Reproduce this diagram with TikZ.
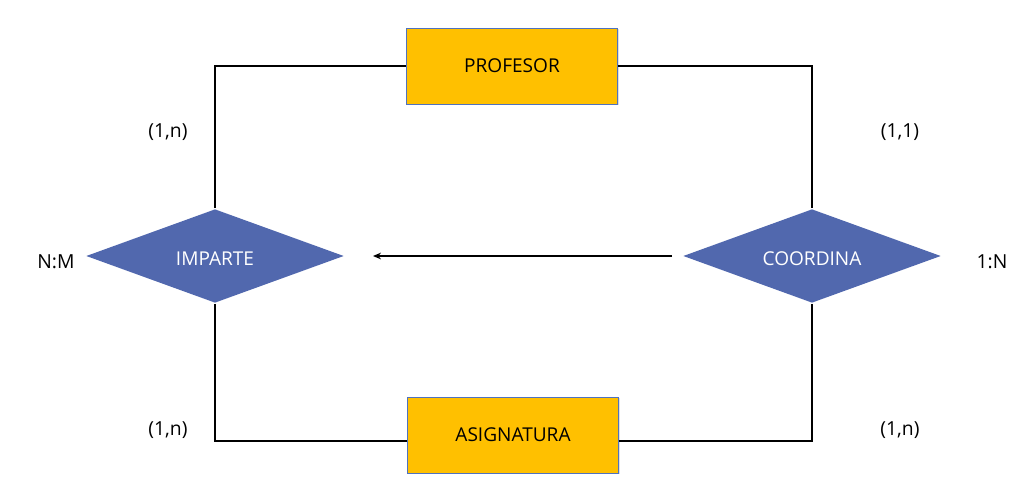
\documentclass[tikz,border=0pt]{standalone}
\usepackage{fontspec}
\setmainfont{Open Sans}
\usetikzlibrary{shapes,shapes.geometric,arrows.meta,shadows}
\definecolor{entfill}{HTML}{FFC000}
\definecolor{entline}{HTML}{4F72BE}
\definecolor{relfill}{HTML}{5168AE}

\begin{document}
\begin{tikzpicture}[x=0.75pt,y=-0.75pt,line width=1.3pt,font=\fontsize{14.3}{16}\selectfont]
  \tikzstyle{entity} = [rectangle,draw=entline,line width=0.6pt,fill=entfill,
    minimum width=158pt,minimum height=57pt,drop shadow={opacity=0.25,shadow xshift=1pt,shadow yshift=-1pt}]
  \tikzstyle{relation} = [diamond,fill=relfill,text=white,aspect=2.74,inner sep=0pt,
    minimum width=193.5pt,minimum height=70.5pt]
  \tikzstyle{card} = [font=\fontsize{14.5}{16}\selectfont,color=black]
  \useasboundingbox (0,0) rectangle (1024,484);
  \node (profesor) [entity] at (512,66) {PROFESOR};
  \node (asignatura) [entity] at (513,435) {ASIGNATURA};
  \node (imparte) [relation] at (215,256) {\raisebox{-7pt}[0pt][0pt]{IMPARTE}};
  \node (coordina) [relation] at (812,256) {\raisebox{-7pt}[0pt][0pt]{COORDINA}};
  \coordinate (a_1) at (672,256);
  \coordinate (a_2) at (373,256);
  % connectors
  \draw (imparte.north) |- (profesor.west);
  \draw (coordina.north) |- (profesor.east);
  \draw (imparte.south) |- ([yshift=-4.5pt]asignatura.west);
  \draw (coordina.south) |- ([yshift=-4.5pt]asignatura.east);
  \draw[-{Stealth[length=6pt,width=5pt]},line width=1.1pt] (a_1) -- (a_2);
  % cardinalities
  \node (c_1) [card] at (168,132) {(1,n)};
  \node (c_2) [card] at (900,132) {(1,1)};
  \node (c_3) [card] at (168,430) {(1,n)};
  \node (c_4) [card] at (900,430) {(1,n)};
  \node (t_1) [card] at (56,262) {N:M};
  \node (t_2) [card] at (992,262) {1:N};
\end{tikzpicture}
\end{document}
